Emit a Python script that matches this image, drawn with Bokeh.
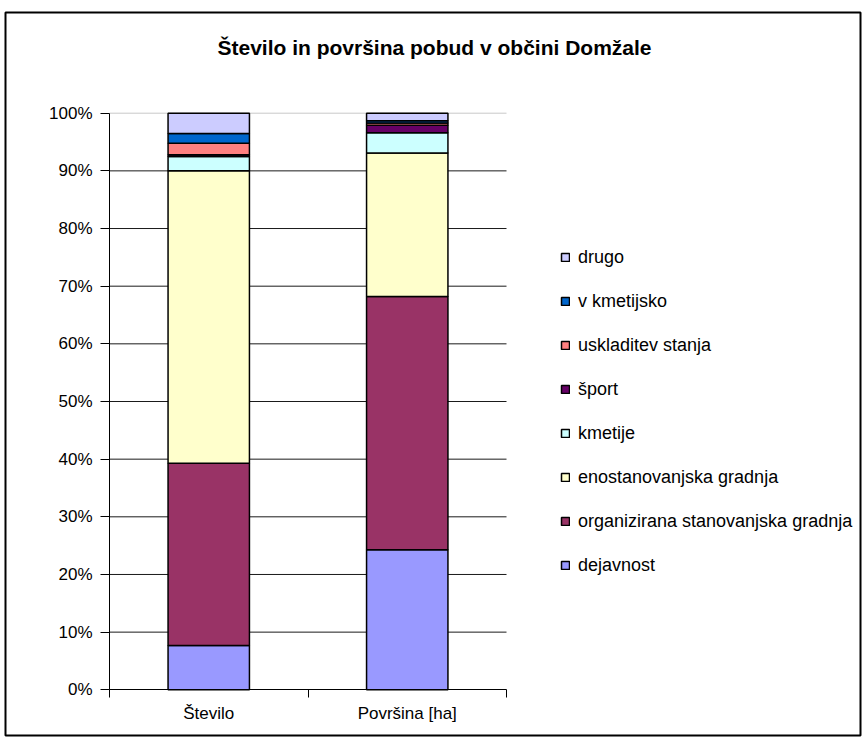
from bokeh.plotting import figure
from bokeh.models import (Range1d, FixedTicker, PrintfTickFormatter, Legend, LegendItem,
                          Label, BoxAnnotation, ColumnDataSource)
from bokeh.embed import file_html
from bokeh.resources import INLINE

title = "Število in površina pobud v občini Domžale"
categories = ["Število", "Površina [ha]"]
series = ["dejavnost", "organizirana stanovanjska gradnja", "enostanovanjska gradnja",
          "kmetije", "šport", "uskladitev stanja", "v kmetijsko", "drugo"]
colors = ["#9999FF", "#993366", "#FFFFCC", "#CCFFFF", "#660066", "#FF8080", "#0066CC", "#CCCCFF"]

dejavnost = [7.7, 24.3]
organizirana = [31.6, 43.9]
enostanovanjska = [50.7, 24.9]
kmetije = [2.5, 3.5]
sport = [0.3, 1.3]
uskladitev = [2.0, 0.4]
v_kmetijsko = [1.7, 0.4]
drugo = [3.5, 1.3]

values = [dejavnost, organizirana, enostanovanjska, kmetije, sport, uskladitev, v_kmetijsko, drugo]
y_ticks = list(range(0, 101, 10))

FONT = "Liberation Sans"
W, H = 866, 744
# plot-area placement in pixels (layout)
PX_LEFT, PX_RIGHT, PX_TOP, PX_BOTTOM = 109, 506, 112.7, 689.3

ncat = len(categories)
ymax = y_ticks[-1]
sx = (PX_RIGHT - PX_LEFT) / ncat
sy = (PX_BOTTOM - PX_TOP) / ymax
x0 = -PX_LEFT / sx
y0 = -(H - PX_BOTTOM) / sy
x_range = Range1d(x0, x0 + W / sx)
y_range = Range1d(y0, y0 + H / sy)

keys = ["s%d" % i for i in range(len(series))]
data = {"x": [i + 0.5 for i in range(ncat)]}
for k, v in zip(keys, values):
    data[k] = v
src = ColumnDataSource(data)

p = figure(width=W, height=H, output_backend="svg", toolbar_location=None,
           x_range=x_range, y_range=y_range,
           min_border_left=0, min_border_right=0, min_border_top=0, min_border_bottom=0)
p.outline_line_color = None
p.background_fill_color = "white"
p.border_fill_color = "white"
p.xgrid.visible = False
p.ygrid.visible = False

# outer chart border
p.add_layout(BoxAnnotation(left=5, right=860, bottom=H - 735, top=H - 12,
                           left_units="screen", right_units="screen",
                           bottom_units="screen", top_units="screen",
                           fill_alpha=0, line_color="black", line_alpha=1.0, line_width=2))

# horizontal gridlines across the plot area only
grid_src = ColumnDataSource(dict(
    y=y_ticks[1:],
    x0=[0] * len(y_ticks[1:]),
    x1=[ncat] * len(y_ticks[1:]),
    color=["#1a1a1a"] * (len(y_ticks) - 2) + ["#c8c8c8"],
))
p.segment(x0="x0", x1="x1", y0="y", y1="y", color="color", line_width=1,
          source=grid_src, level="underlay")

renderers = p.vbar_stack(keys, x="x", width=0.41, source=src, fill_color=colors,
                         line_color="black", line_width=1.5)

# axes, fixed inside the frame at the plot-area origin
p.yaxis.fixed_location = 0
p.yaxis.bounds = (0, ymax)
p.yaxis.ticker = FixedTicker(ticks=y_ticks)
p.yaxis.formatter = PrintfTickFormatter(format="%d%%")
p.yaxis.major_tick_out = 9
p.yaxis.major_tick_in = 0
p.yaxis.minor_tick_out = 0
p.yaxis.major_label_standoff = 8
p.yaxis.major_label_text_font = FONT
p.yaxis.major_label_text_font_size = "17px"
p.yaxis.major_label_text_color = "black"
p.yaxis.axis_line_color = "black"
p.yaxis.major_tick_line_color = "black"

p.xaxis.fixed_location = 0
p.xaxis.bounds = (0, ncat)
p.xaxis.ticker = FixedTicker(ticks=data["x"], minor_ticks=list(range(ncat + 1)))
p.xaxis.major_label_overrides = {x: c for x, c in zip(data["x"], categories)}
p.xaxis.major_tick_out = 0
p.xaxis.major_tick_in = 0
p.xaxis.minor_tick_out = 8
p.xaxis.minor_tick_in = 0
p.xaxis.minor_tick_line_color = "black"
p.xaxis.major_label_standoff = 6
p.xaxis.major_label_text_font = FONT
p.xaxis.major_label_text_font_size = "17px"
p.xaxis.major_label_text_color = "black"
p.xaxis.axis_line_color = "black"

# legend (reverse order, drugo on top)
items = [LegendItem(label=s, renderers=[r]) for s, r in zip(series, renderers)][::-1]
legend = Legend(items=items, location=(560, H - 576), padding=0, margin=0,
                border_line_color=None, background_fill_alpha=0,
                glyph_width=10, glyph_height=10, label_standoff=8,
                label_text_font=FONT, label_text_font_size="18px",
                label_text_color="black",
                label_height=22, spacing=22)
p.add_layout(legend, "center")

# title
p.add_layout(Label(x=434, y=H - 47, x_units="screen", y_units="screen", text=title,
                   text_align="center", text_baseline="middle", text_font=FONT,
                   text_font_size="21px", text_font_style="bold", text_color="black"))

open("out.html", "w").write(file_html(p, INLINE))
